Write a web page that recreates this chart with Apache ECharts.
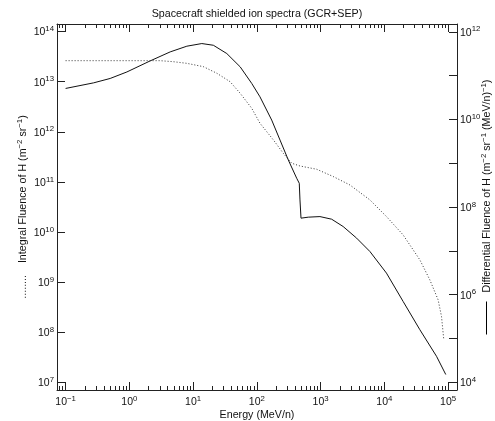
<!DOCTYPE html>
<html><head><meta charset="utf-8">
<script src="https://cdn.jsdelivr.net/npm/echarts@6/dist/echarts.min.js"></script>
<style>html,body{margin:0;padding:0;background:#fff}#c{width:495px;height:421px}</style>
</head><body><div id="c"></div>
<script>
const titleText = 'Spacecraft shielded ion spectra (GCR+SEP)';
const xName = 'Energy (MeV/n)';
// Differential fluence (solid line, right axis)
const diffEnergy = [0.1, 0.275, 0.5, 0.916, 2.12, 4.37, 7.98, 13.7, 20.8, 33.8, 54.8, 83.2, 112, 171, 231, 312, 422, 463, 475, 493, 641, 977, 1490, 2260, 3670, 5940, 10800, 19700, 36100, 65900, 92000];
const diffFluence = [5.08e10, 6.82e10, 8.59e10, 1.21e11, 2.16e11, 3.47e11, 4.68e11, 5.38e11, 4.92e11, 3.18e11, 1.58e11, 6.61e10, 3.27e10, 9.64e9, 3.37e9, 1.18e9, 4.53e8, 3.48e8, 1.45e8, 5.56e7, 5.86e7, 6.04e7, 5.27e7, 3.58e7, 1.95e7, 9.64e6, 3.10e6, 7.0e5, 1.58e5, 3.91e4, 1.50e4];
// Integral fluence (dotted line, left axis)
const intEnergy = [0.1, 3.05, 4.92, 7.98, 14.5, 23.6, 38.0, 54.8, 83.2, 112, 182, 260, 352, 475, 869, 1580, 2880, 5940, 10800, 19700, 36100, 51800, 69800, 78900, 85700];
const intFluence = [2.62e13, 2.62e13, 2.50e13, 2.32e13, 1.99e13, 1.47e13, 1.0e13, 5.86e12, 2.94e12, 1.48e12, 6.87e11, 3.73e11, 2.36e11, 2.08e11, 1.79e11, 1.28e11, 8.71e10, 4.38e10, 2.04e10, 8.79e9, 2.79e9, 1.11e9, 4.45e8, 2.07e8, 7.10e7];
// Tick exponents (powers of ten)
const xMajorExp = [-1, 0, 1, 2, 3, 4, 5];
const leftExp = [7, 8, 9, 10, 11, 12, 13, 14];
const rightTickExp = [4, 5, 6, 7, 8, 9, 10, 11, 12];
const rightLabelExp = [4, 6, 8, 10, 12];
const minorMult = [2, 3, 4, 5, 6, 7, 8, 9];

const X_MIN = -1.135, X_MAX = 5.14;
const L_MIN = 6.85, L_MAX = 14.15;
const R_MIN = 3.823, R_MAX = 12.177;

const xMinorExp = [];
for (let n = -2; n <= 5; n++) {
  minorMult.forEach(k => {
    const v = Math.log10(k) + n;
    if (v > X_MIN && v < X_MAX) xMinorExp.push(v);
  });
}

const FONT = 'Liberation Sans';
const FS = 10.7;
const TXT = '#111';
const AX = '#222';
const labelRich = {
  b: { fontSize: 10.5, fontFamily: FONT, color: TXT, lineHeight: 13, verticalAlign: 'bottom' },
  s: { fontSize: 7.8, fontFamily: FONT, color: TXT, lineHeight: 6, verticalAlign: 'top' }
};
const nameRich = {
  n: { fontSize: FS, fontFamily: FONT, color: TXT, lineHeight: 13, verticalAlign: 'bottom' },
  s: { fontSize: 7.8, fontFamily: FONT, color: TXT, lineHeight: 6, verticalAlign: 'top' },
  d: { fontSize: FS, fontFamily: FONT, color: '#333', lineHeight: 13, verticalAlign: 'bottom' },
  ln: { width: 33, height: 1, backgroundColor: '#000', verticalAlign: 'middle' }
};
function supFmt(v) {
  const e = Math.round(v);
  const t = e < 0 ? '\u2212' + Math.abs(e) : String(e);
  return '{b|10}{s|' + t + '}';
}

function xAxisCfg(pos, values, len, showLine, withLabels) {
  return {
    type: 'value', position: pos, min: X_MIN, max: X_MAX,
    splitLine: { show: false },
    axisLine: { show: showLine, onZero: false, lineStyle: { color: AX, width: 1 } },
    axisTick: { show: true, inside: true, length: len, customValues: values, lineStyle: { color: AX, width: 1 } },
    axisLabel: withLabels ? { show: true, customValues: values, margin: 5, formatter: supFmt, rich: labelRich } : { show: false },
    name: withLabels ? xName : '',
    nameLocation: 'middle', nameGap: 19, nameMoveOverlap: false,
    nameTextStyle: { fontSize: FS, fontFamily: FONT, color: TXT, lineHeight: 12 }
  };
}

const leftName = '{d|........}{n|    Integral Fluence of H (m}{s|\u22122}{n| sr}{s|\u22121}{n|)}';
const rightName = '{ln| }{n|   Differential Fluence of H (m}{s|\u22122}{n| sr}{s|\u22121}{n| (MeV/n)}{s|\u22121}{n|)}';

const option = {
  animation: false,
  backgroundColor: '#fff',
  title: {
    text: titleText, left: 257, top: 9, textAlign: 'center', padding: 0,
    textStyle: { fontSize: FS, fontFamily: FONT, color: TXT, fontWeight: 'normal' }
  },
  grid: { left: 57, right: 38, top: 24, bottom: 31, containLabel: false, outerBoundsMode: 'none' },
  xAxis: [
    xAxisCfg('bottom', xMajorExp, 8, true, true),
    xAxisCfg('bottom', xMinorExp, 4, false, false),
    xAxisCfg('top', xMajorExp, 8, true, false),
    xAxisCfg('top', xMinorExp, 4, false, false)
  ],
  yAxis: [
    {
      type: 'value', position: 'left', min: L_MIN, max: L_MAX,
      splitLine: { show: false },
      axisLine: { show: true, onZero: false, lineStyle: { color: AX, width: 1 } },
      axisTick: { show: true, inside: true, length: 8, customValues: leftExp, lineStyle: { color: AX, width: 1 } },
      axisLabel: { show: true, customValues: leftExp, margin: 3, formatter: supFmt, rich: labelRich },
      name: leftName, nameLocation: 'middle', nameGap: 28, nameRotate: 90, nameMoveOverlap: false,
      nameTextStyle: { fontSize: FS, fontFamily: FONT, color: TXT, rich: nameRich }
    },
    {
      type: 'value', position: 'right', min: R_MIN, max: R_MAX,
      splitLine: { show: false },
      axisLine: { show: true, onZero: false, lineStyle: { color: AX, width: 1 } },
      axisTick: { show: true, inside: true, length: 8, customValues: rightTickExp, lineStyle: { color: AX, width: 1 } },
      axisLabel: { show: true, customValues: rightLabelExp, margin: 3, formatter: supFmt, rich: labelRich },
      name: rightName, nameLocation: 'middle', nameGap: 23, nameRotate: 90, nameMoveOverlap: false,
      nameTextStyle: { fontSize: FS, fontFamily: FONT, color: TXT, rich: nameRich }
    }
  ],
  series: [
    {
      name: 'Integral', type: 'line', xAxisIndex: 0, yAxisIndex: 0,
      showSymbol: false, symbol: 'none',
      lineStyle: { color: '#333', width: 1, type: [1, 2] },
      data: intEnergy.map((e, i) => [Math.log10(e), Math.log10(intFluence[i])])
    },
    {
      name: 'Differential', type: 'line', xAxisIndex: 0, yAxisIndex: 1,
      showSymbol: false, symbol: 'none',
      lineStyle: { color: '#111', width: 1 },
      data: diffEnergy.map((e, i) => [Math.log10(e), Math.log10(diffFluence[i])])
    }
  ]
};
const chart = echarts.init(document.getElementById('c'), null, { renderer: 'canvas' });
chart.setOption(option);
</script>
</body></html>
